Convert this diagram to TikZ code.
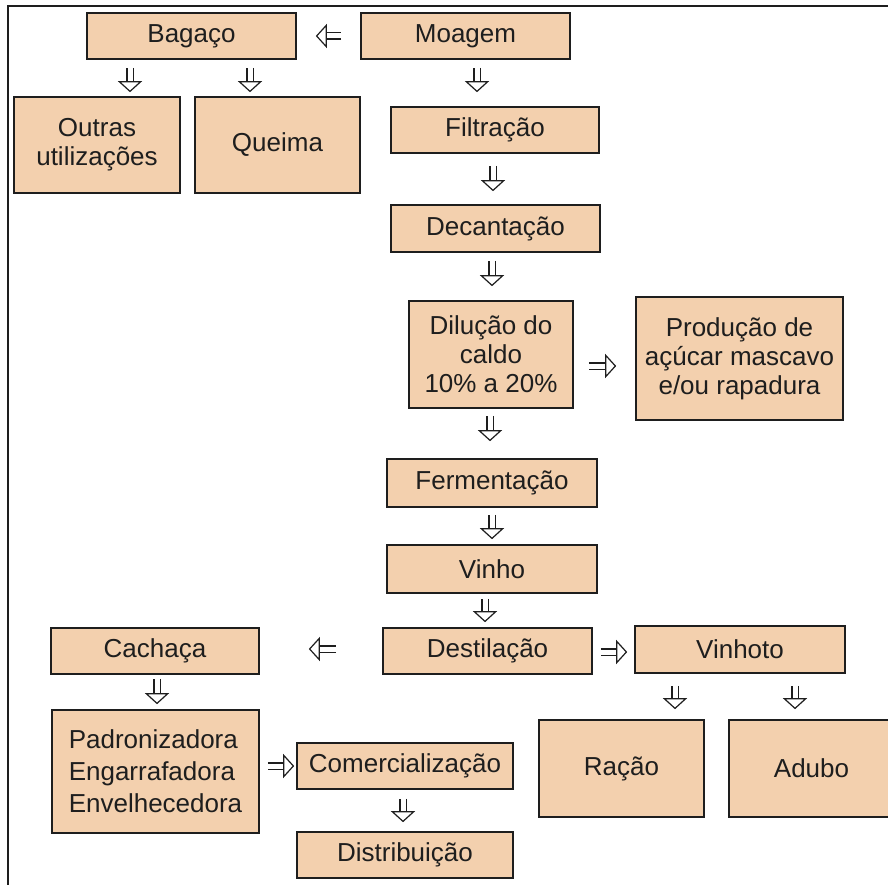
\documentclass[tikz,border=0pt]{standalone}
\usepackage{fontspec}
\setmainfont{Liberation Sans}
\usetikzlibrary{arrows.meta,calc}
\definecolor{boxfill}{RGB}{243,208,174}
\definecolor{ink}{RGB}{30,30,30}
\begin{document}
\begin{tikzpicture}[x=1pt,y=-1pt,
  box/.style={draw=ink, line width=1.6pt, fill=boxfill, inner sep=0pt, align=center,
    font=\fontsize{26}{29}\selectfont, text=ink},
  harrow/.style={draw=ink, line width=1.2pt, double=white, double distance=5pt,
    -{Triangle[fill=white, width=24pt, length=11pt, line width=1.2pt]}}
]
\clip (0,0) rectangle (888,885);
\fill[white] (0,0) rectangle (888,885);
\draw[line width=2.5pt, ink] (8,885) -- (8,6) -- (888,6);

% boxes
\node[box, minimum width=209pt, minimum height=46pt] (bagaco) at (191.5,36) {Bagaço};
\node[box, minimum width=209pt, minimum height=46pt] (moagem) at (465.5,36) {Moagem};
\node[box, minimum width=166pt, minimum height=96pt] (outras) at (97,145) {Outras\\utilizações};
\node[box, minimum width=165pt, minimum height=96pt] (queima) at (277.5,145) {Queima};
\node[box, minimum width=208pt, minimum height=46pt] (filtracao) at (495,130) {Filtração};
\node[box, minimum width=209pt, minimum height=47pt] (decantacao) at (495.5,228.5) {Decantação};
\node[box, minimum width=164pt, minimum height=107pt] (dilucao) at (491,354.5) {Dilução do\\caldo\\10\% a 20\%};
\node[box, minimum width=207pt, minimum height=123pt] (producao) at (739.5,358.5) {Produção de\\açúcar mascavo\\e/ou rapadura};
\node[box, minimum width=210pt, minimum height=48pt] (fermentacao) at (492,483) {Fermentação};
\node[box, minimum width=210pt, minimum height=48pt] (vinho) at (492,569) {Vinho};
\node[box, minimum width=209pt, minimum height=46pt] (destilacao) at (487.5,651) {Destilação};
\node[box, minimum width=210pt, minimum height=47pt] (vinhoto) at (740,649.5) {Vinhoto};
\node[box, minimum width=165pt, minimum height=97pt] (racao) at (621.5,768.5) {Ração};
\node[box, minimum width=165pt, minimum height=97pt] (adubo) at (811.5,768.5) {Adubo};
\node[box, minimum width=208pt, minimum height=46pt] (cachaca) at (155,651) {Cachaça};
\node[box, minimum width=207pt, minimum height=123pt, align=left, font=\fontsize{26}{32}\selectfont] (padron) at (155.5,771.5) {Padronizadora\\Engarrafadora\\Envelhecedora};
\node[box, minimum width=216pt, minimum height=46pt] (comerc) at (405,766) {Comercialização};
\node[box, minimum width=216pt, minimum height=46pt] (distrib) at (405,855) {Distribuição};

% arrows
\draw[harrow, shorten <=19pt, shorten >=19pt] (moagem.west) -- (bagaco.east);
\draw[harrow, shorten <=8pt, shorten >=4pt] ([xshift=-61.5pt]bagaco.south) -- ([xshift=-61.5pt]bagaco.south |- outras.north);
\draw[harrow, shorten <=8pt, shorten >=4pt] ([xshift=58.5pt]bagaco.south) -- ([xshift=58.5pt]bagaco.south |- queima.north);
\draw[harrow, shorten <=8pt, shorten >=14pt] ([xshift=11.5pt]moagem.south) -- ([xshift=11.5pt]moagem.south |- filtracao.north);
\draw[harrow, shorten <=12pt, shorten >=13pt] ([xshift=-2pt]filtracao.south) -- ([xshift=-2pt]filtracao.south |- decantacao.north);
\draw[harrow, shorten <=8pt, shorten >=14pt] ([xshift=-3.5pt]decantacao.south) -- ([xshift=-3.5pt]decantacao.south |- dilucao.north);
\draw[harrow, shorten <=15pt, shorten >=19pt] ([yshift=-11.5pt]dilucao.east) -- ([yshift=-11.5pt]dilucao.east -| producao.west);
\draw[harrow, shorten <=7pt, shorten >=17pt] ([xshift=-1pt]dilucao.south) -- ([xshift=-1pt]dilucao.south |- fermentacao.north);
\draw[harrow, shorten <=7pt, shorten >=5pt] (fermentacao.south) -- (vinho.north);
\draw[harrow, shorten <=5pt, shorten >=5pt] ([xshift=-7pt]vinho.south) -- ([xshift=-7pt]vinho.south |- destilacao.north);
\draw[harrow, shorten <=46pt, shorten >=49pt] ([yshift=2pt]destilacao.west) -- ([yshift=2pt]destilacao.west -| cachaca.east);
\draw[harrow, shorten <=8pt, shorten >=7pt] ([yshift=-1pt]destilacao.east) -- ([yshift=-1pt]destilacao.east -| vinhoto.west);
\draw[harrow, shorten <=12pt, shorten >=10pt] ([xshift=-65pt]vinhoto.south) -- ([xshift=-65pt]vinhoto.south |- racao.north);
\draw[harrow, shorten <=12pt, shorten >=10pt] ([xshift=55pt]vinhoto.south) -- ([xshift=55pt]vinhoto.south |- adubo.north);
\draw[harrow, shorten <=4pt, shorten >=5pt] ([xshift=2pt]cachaca.south) -- ([xshift=2pt]cachaca.south |- padron.north);
\draw[harrow, shorten <=8pt, shorten >=2pt] (padron.east |- comerc.west) -- (comerc.west);
\draw[harrow, shorten <=9pt, shorten >=9pt] ([xshift=-2pt]comerc.south) -- ([xshift=-2pt]comerc.south |- distrib.north);
\end{tikzpicture}
\end{document}
